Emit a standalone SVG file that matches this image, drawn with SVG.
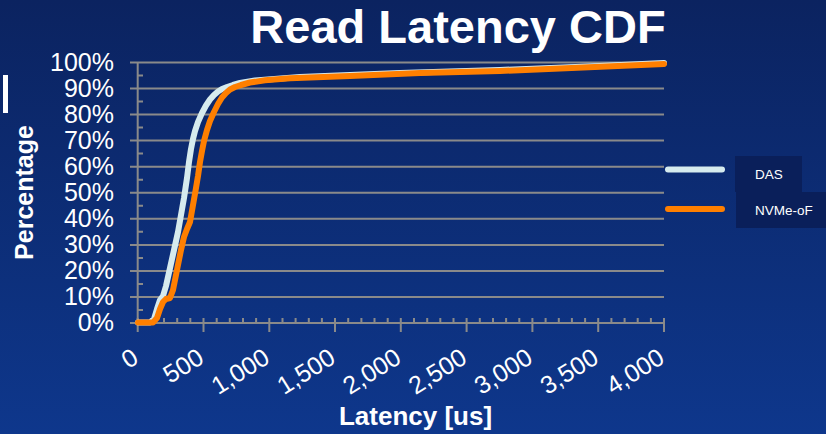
<svg xmlns="http://www.w3.org/2000/svg" width="826" height="434" viewBox="0 0 826 434">
<defs>
<linearGradient id="bg" x1="0" y1="0" x2="0" y2="1">
<stop offset="0" stop-color="#0b2360"/>
<stop offset="1" stop-color="#0e378c"/>
</linearGradient>
</defs>
<style>
.grid{stroke:#8a8a8a;stroke-width:2;fill:none}
.tick{stroke:#8a8a8a;stroke-width:2;fill:none}
.ylab{font-family:"Liberation Sans",Arial,sans-serif;font-size:25px;fill:#ffffff;text-anchor:end}
.xlab{font-family:"Liberation Sans",Arial,sans-serif;font-size:25px;fill:#ffffff;text-anchor:end}
.title{font-family:"Liberation Sans",Arial,sans-serif;font-weight:bold;fill:#ffffff;text-anchor:middle}
.leg{font-family:"Liberation Sans",Arial,sans-serif;font-size:13.5px;fill:#ffffff}
.das{stroke:#d6ebee;stroke-width:6;fill:none;stroke-linejoin:round;stroke-linecap:round}
.nvme{stroke:#ff7f00;stroke-width:6;fill:none;stroke-linejoin:round;stroke-linecap:round}
</style>
<rect x="0" y="0" width="826" height="434" fill="url(#bg)"/>
<rect x="3" y="75" width="5" height="38" fill="#ffffff"/>
<text class="title" x="458" y="43" font-size="47">Read Latency CDF</text>
<g id="grid">
<path class="grid" d="M130 62.5H664M130 88.5H664M130 114.6H664M130 140.6H664M130 166.7H664M130 192.7H664M130 218.8H664M130 244.9H664M130 270.9H664M130 297H664M130 323H664"/>
<path class="grid" d="M137.7 62.5V323"/>
<path class="tick" d="M138 75.5H143M138 101.5H143M138 127.6H143M138 153.6H143M138 179.7H143M138 205.7H143M138 231.8H143M138 257.9H143M138 283.9H143M138 310H143"/>
<path class="tick" d="M137.7 318V332M203.5 318V332M269.3 318V332M335 318V332M400.8 318V332M466.6 318V332M532.4 318V332M598.2 318V332M664 318V332"/>
<path class="tick" d="M150.9 318V323M164 318V323M177.2 318V323M190.3 318V323M216.7 318V323M229.8 318V323M243 318V323M256.1 318V323M282.5 318V323M295.6 318V323M308.8 318V323M321.9 318V323M348.2 318V323M361.4 318V323M374.5 318V323M387.7 318V323M414 318V323M427.2 318V323M440.3 318V323M453.5 318V323M479.8 318V323M493 318V323M506.1 318V323M519.3 318V323M545.6 318V323M558.8 318V323M571.9 318V323M585.1 318V323M611.4 318V323M624.6 318V323M637.7 318V323M650.9 318V323"/>
</g>
<g id="y-labels">
<text class="ylab" x="114" y="71">100%</text>
<text class="ylab" x="114" y="97">90%</text>
<text class="ylab" x="114" y="123">80%</text>
<text class="ylab" x="114" y="149">70%</text>
<text class="ylab" x="114" y="175">60%</text>
<text class="ylab" x="114" y="201">50%</text>
<text class="ylab" x="114" y="227">40%</text>
<text class="ylab" x="114" y="253">30%</text>
<text class="ylab" x="114" y="279">20%</text>
<text class="ylab" x="114" y="305">10%</text>
<text class="ylab" x="114" y="331">0%</text>
</g>
<g id="x-labels">
<text class="xlab" transform="translate(140 362) rotate(-32)">0</text>
<text class="xlab" transform="translate(205.5 362) rotate(-32)">500</text>
<text class="xlab" transform="translate(271.3 362) rotate(-32)">1,000</text>
<text class="xlab" transform="translate(337 362) rotate(-32)">1,500</text>
<text class="xlab" transform="translate(402.8 362) rotate(-32)">2,000</text>
<text class="xlab" transform="translate(468.6 362) rotate(-32)">2,500</text>
<text class="xlab" transform="translate(534.4 362) rotate(-32)">3,000</text>
<text class="xlab" transform="translate(600.2 362) rotate(-32)">3,500</text>
<text class="xlab" transform="translate(666 362) rotate(-32)">4,000</text>
</g>
<text id="y-title" class="title" font-size="25" transform="translate(33 192.5) rotate(-90)">Percentage</text>
<text id="x-title" class="title" font-size="26" x="415.5" y="425">Latency [us]</text>
<g id="series">
<path id="das-line" class="das" d="M138 322.5L150 322.5L154 319L157 309L160 300L163 296L166 286L170 268L174 250L178 232L181 215L184 198L187 178L189 162L191 149L193 139L195 131L198 122L202 113L206 105.5L210 99.5L214 95L218 91.5L222 89L227 87L233 85L240 83L255 80.5L300 77L400 73L500 70L600 66L664 63"/>
<path id="nvme-line" class="nvme" d="M138 322.5L153 322.5L157 318L160 309L163 302L166 299L170 298L173 290L177 270L181 250L184 237L187 229L190 222L193 205L196 188L198 176L200 162L202 151L204 141L207 130L210 121L214 112L218 104L222 97.5L226 93L230 89.5L235 87L241 85L250 82.5L265 80.3L290 78.3L350 76L420 73L500 71L560 68.5L664 64"/>
</g>
<g id="legend">
<rect x="735" y="156" width="67" height="36" fill="#0a1f5a"/>
<rect x="736" y="192" width="90" height="36" fill="#0a1f5a"/>
<line class="das" x1="668" y1="169.5" x2="722" y2="169.5" stroke-width="5"/>
<line class="nvme" x1="668" y1="209" x2="722" y2="209" stroke-width="5"/>
<text class="leg" x="755" y="179">DAS</text>
<text class="leg" x="755" y="215">NVMe-oF</text>
</g>
</svg>
